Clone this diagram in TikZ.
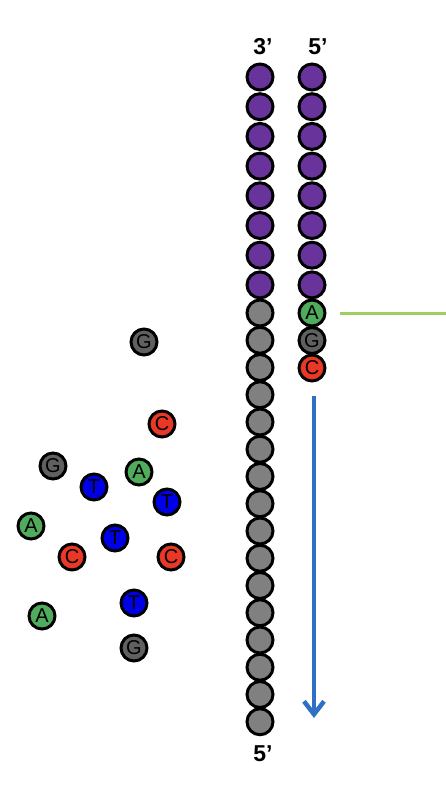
\documentclass[tikz,border=0pt]{standalone}
\usepackage{fontspec}
\setmainfont{Liberation Sans}
\usetikzlibrary{arrows.meta}
\definecolor{cPurple}{RGB}{104,52,156}
\definecolor{cStrand}{RGB}{128,128,128}
\definecolor{cG}{RGB}{96,96,96}
\definecolor{cA}{RGB}{80,172,92}
\definecolor{cC}{RGB}{234,56,38}
\definecolor{cT}{RGB}{0,0,230}
\definecolor{cLine}{RGB}{156,206,96}
\definecolor{cArrow}{RGB}{48,112,196}
\begin{document}
\begin{tikzpicture}[x=1pt,y=-1pt,
  bead/.style={circle,draw=black,line width=3pt,minimum size=26pt,inner sep=0pt,
    font=\fontsize{20}{20}\selectfont,text=black},
  bP/.style={bead,fill=cPurple},
  bS/.style={bead,fill=cStrand},
  bG/.style={bead,fill=cG},
  bA/.style={bead,fill=cA},
  bC/.style={bead,fill=cC},
  bT/.style={bead,fill=cT},
  endlabel/.style={font=\bfseries\fontsize{23}{23}\selectfont,inner sep=0pt}]
\useasboundingbox (0,0) rectangle (446,796);
% end labels
\node[endlabel] (l3) at (263,47) {3’};
\node[endlabel] (r5) at (318,47) {5’};
\node[endlabel] (b5) at (263,754) {5’};
% template strand
\foreach \i in {0,...,7} {
  \node[bP] (lp\i) at (260,{77+29.7*\i}) {};
}
\foreach \j in {0,...,15} {
  \node[bS] (lg\j) at (260,{313+27.25*\j}) {};
}
% new strand
\foreach \i in {0,...,7} {
  \node[bP] (rp\i) at (312,{77+29.7*\i}) {};
}
\node[bA] (rA) at (312,313) {A};
\node[bG] (rG) at (312,340.5) {G};
\node[bC] (rC) at (312,368) {C};
% free nucleotides
\node[bG] (f1) at (144,342) {G};
\node[bC] (f2) at (162,424) {C};
\node[bG] (f3) at (53,466) {G};
\node[bA] (f4) at (139,472) {A};
\node[bT] (f5) at (94,487) {T};
\node[bT] (f6) at (167,502) {T};
\node[bA] (f7) at (31,526) {A};
\node[bT] (f8) at (115,538) {T};
\node[bC] (f9) at (72,557) {C};
\node[bC] (f10) at (171,557) {C};
\node[bT] (f11) at (134,603) {T};
\node[bA] (f12) at (42,616) {A};
\node[bG] (f13) at (134,648) {G};
% green marker line
\coordinate (gl1) at (340,313);
\coordinate (gl2) at (446,313);
\draw[cLine,line width=3pt] (gl1) -- (gl2);
% direction arrow
\coordinate (a1) at (314,396);
\coordinate (a2) at (314,718);
\draw[cArrow,line width=4.5pt,-{Straight Barb[length=13pt,width=20pt,line width=4.5pt]}] (a1) -- (a2);
\end{tikzpicture}
\end{document}
